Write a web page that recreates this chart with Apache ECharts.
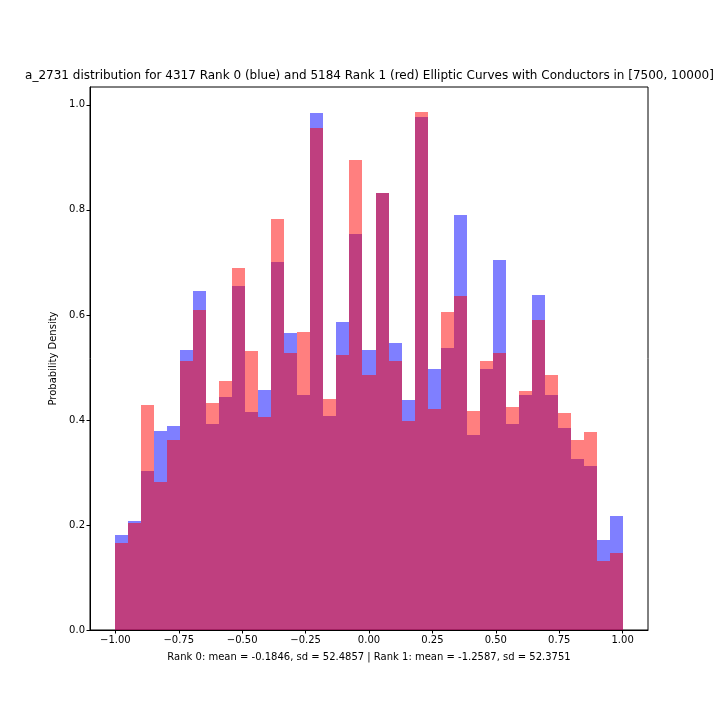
<!DOCTYPE html>
<html>
<head>
<meta charset="utf-8">
<script src="https://cdn.jsdelivr.net/npm/echarts@6/dist/echarts.min.js"></script>
<style>
html,body{margin:0;padding:0;background:#fff;}
#chart{width:720px;height:720px;}
</style>
</head>
<body>
<div id="chart"></div>
<script>
// Histogram: 39 equal bins over [-1, 1]
const binMin = -1;
const binMax = 1;
const binCount = 39;
// Rank 0 (blue) densities per bin
const rank0Density = [0.181, 0.208, 0.303, 0.379, 0.389, 0.533, 0.646, 0.392, 0.444, 0.655,
  0.415, 0.457, 0.701, 0.566, 0.448, 0.985, 0.408, 0.587, 0.754, 0.533,
  0.832, 0.547, 0.438, 0.977, 0.497, 0.537, 0.790, 0.371, 0.497, 0.705,
  0.392, 0.448, 0.638, 0.448, 0.385, 0.326, 0.312, 0.171, 0.217];
// Rank 1 (red) densities per bin
const rank1Density = [0.166, 0.204, 0.429, 0.282, 0.362, 0.512, 0.610, 0.432, 0.474, 0.690,
  0.531, 0.406, 0.783, 0.528, 0.568, 0.956, 0.440, 0.524, 0.895, 0.486,
  0.832, 0.512, 0.398, 0.987, 0.421, 0.606, 0.636, 0.417, 0.512, 0.528,
  0.425, 0.455, 0.590, 0.486, 0.413, 0.362, 0.377, 0.131, 0.147];
const xTicks = [-1, -0.75, -0.5, -0.25, 0, 0.25, 0.5, 0.75, 1];
const yTicks = [0, 0.2, 0.4, 0.6, 0.8, 1.0];
const titleText = 'a_2731 distribution for 4317 Rank 0 (blue) and 5184 Rank 1 (red) Elliptic Curves with Conductors in [7500, 10000]';
const xLabelText = 'Rank 0: mean = -0.1846, sd = 52.4857 | Rank 1: mean = -1.2587, sd = 52.3751';
const yLabelText = 'Probability Density';

const binWidth = (binMax - binMin) / binCount;
function toBins(vals) {
  return vals.map((v, i) => [binMin + i * binWidth, binMin + (i + 1) * binWidth, v]);
}
function makeRender(color) {
  return function (params, api) {
    const p0 = api.coord([api.value(0), api.value(2)]);
    const p1 = api.coord([api.value(1), 0]);
    const x0 = Math.round(p0[0]), x1 = Math.round(p1[0]);
    const y0 = Math.round(p0[1]), y1 = Math.round(p1[1]);
    return {
      type: 'rect',
      shape: { x: x0, y: y0, width: x1 - x0, height: y1 - y0 },
      style: { fill: color }
    };
  };
}
const font = 'DejaVu Sans';
const chart = echarts.init(document.getElementById('chart'), null, { renderer: 'canvas' });
chart.setOption({
  animation: false,
  backgroundColor: '#fff',
  grid: { left: 90, right: 72, top: 87, bottom: 90, show: true, borderColor: '#000', borderWidth: 1, backgroundColor: 'transparent' },
  xAxis: {
    type: 'value', min: -1.1, max: 1.1,
    name: xLabelText, nameLocation: 'middle', nameGap: 22,
    nameTextStyle: { fontFamily: font, fontSize: 10, color: '#000' },
    axisLine: { show: true, onZero: false, lineStyle: { color: '#000', width: 1 } },
    axisTick: { show: true, length: 3.5, customValues: xTicks, lineStyle: { color: '#000' } },
    axisLabel: { customValues: xTicks, fontFamily: font, fontSize: 10, color: '#000', margin: 5,
      formatter: v => (v < 0 ? '\u2212' : '') + Math.abs(v).toFixed(2) },
    splitLine: { show: false }
  },
  yAxis: {
    type: 'value', min: 0, max: 1.034,
    name: yLabelText, nameLocation: 'middle', nameGap: 26, nameRotate: 90,
    nameTextStyle: { fontFamily: font, fontSize: 10, color: '#000' },
    axisLine: { show: true, onZero: false, lineStyle: { color: '#000', width: 1 } },
    axisTick: { show: true, length: 3.5, customValues: yTicks, lineStyle: { color: '#000' } },
    axisLabel: { customValues: yTicks, fontFamily: font, fontSize: 10, color: '#000', margin: 5,
      formatter: v => v.toFixed(1) },
    splitLine: { show: false }
  },
  graphic: [{
    type: 'text', x: 369.5, y: 75.5,
    style: { text: titleText, textAlign: 'center', textVerticalAlign: 'middle', fontFamily: font, fontSize: 12, fill: '#000' }
  }],
  series: [
    { type: 'custom', name: 'Rank 0', renderItem: makeRender('rgba(0,0,255,0.5)'), encode: { x: [0, 1], y: 2 }, data: toBins(rank0Density), clip: true },
    { type: 'custom', name: 'Rank 1', renderItem: makeRender('rgba(255,0,0,0.5)'), encode: { x: [0, 1], y: 2 }, data: toBins(rank1Density), clip: true }
  ]
});
</script>
</body>
</html>
